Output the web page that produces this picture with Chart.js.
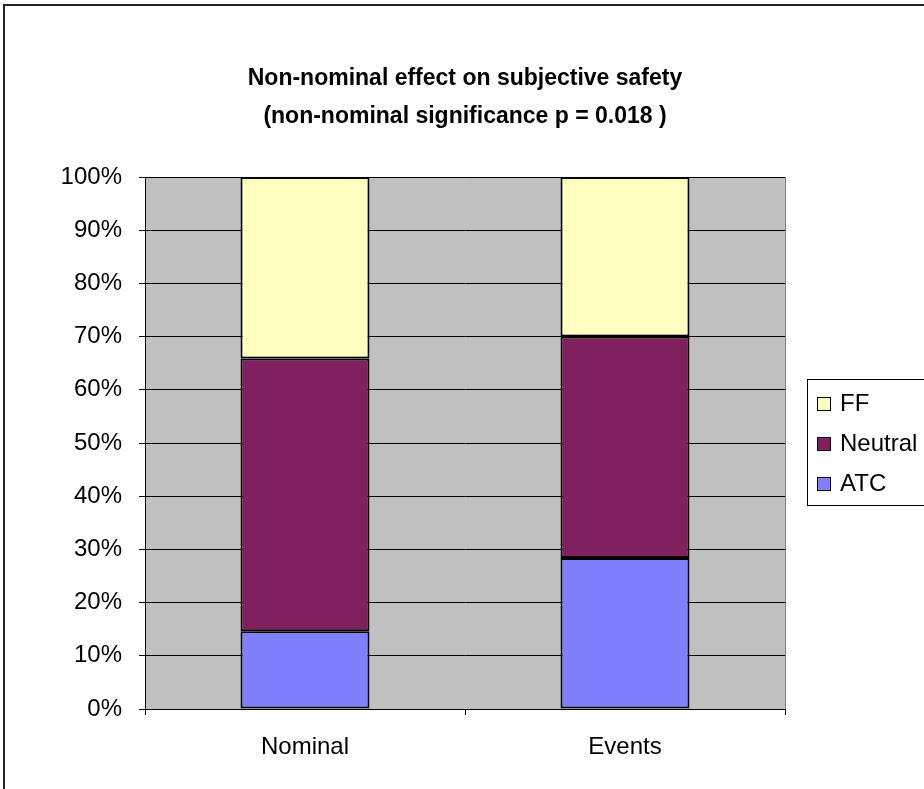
<!DOCTYPE html>
<html>
<head>
<meta charset="utf-8">
<script src="https://cdn.jsdelivr.net/npm/chart.js@4.4.1/dist/chart.umd.min.js"></script>
<style>
  html, body { margin: 0; padding: 0; background: #fff; }
  #wrap { width: 924px; height: 789px; position: relative; }
</style>
</head>
<body>
<div id="wrap"><canvas id="chart" width="924" height="789"></canvas></div>
<script>
// ==== Data ====
const categories = ['Nominal', 'Events'];
const atcValues = [14.6, 28.4];
const neutralValues = [51.3, 41.6];
const ffValues = [34.1, 30.0];
const titleLines = ['Non-nominal effect on subjective safety', '(non-nominal significance p = 0.018 )'];

const FONT = '"Liberation Sans", Arial, sans-serif';

// ==== Plot background, frame, title, legend ====
const framePlugin = {
  id: 'frame',
  beforeDraw(chart) {
    const { ctx, chartArea: a } = chart;
    ctx.save();
    ctx.fillStyle = '#fff';
    ctx.fillRect(0, 0, chart.width, chart.height);
    ctx.strokeStyle = '#222';
    ctx.lineWidth = 2;
    ctx.strokeRect(4, 5, chart.width + 20, chart.height + 20);
    ctx.fillStyle = '#c0c0c0';
    ctx.fillRect(a.left, a.top, a.right - a.left, a.bottom - a.top);
    ctx.strokeStyle = '#808080';
    ctx.lineWidth = 1;
    ctx.strokeRect(a.left + 0.5, a.top + 0.5, a.right - a.left, a.bottom - a.top);
    ctx.restore();
  },
  afterDraw(chart) {
    const { ctx } = chart;
    ctx.save();
    // title
    ctx.fillStyle = '#000';
    ctx.font = 'bold 23px ' + FONT;
    ctx.textAlign = 'center';
    ctx.textBaseline = 'middle';
    ctx.fillText(titleLines[0], 465, 79);
    ctx.fillText(titleLines[1], 465, 117);

    // legend (top item = last dataset)
    ctx.strokeStyle = '#000';
    ctx.lineWidth = 1;
    ctx.strokeRect(807.5, 379.5, 140, 126);
    ctx.font = '24px ' + FONT;
    ctx.textAlign = 'left';
    const ds = chart.data.datasets.slice().reverse();
    ds.forEach((d, i) => {
      const cy = 403 + i * 40;
      ctx.fillStyle = d.backgroundColor;
      ctx.fillRect(817, cy - 6, 13, 13);
      ctx.strokeRect(817.5, cy - 5.5, 13, 13);
      ctx.fillStyle = '#000';
      ctx.fillText(d.label, 840, cy + 1);
    });
    ctx.restore();
  }
};

new Chart(document.getElementById('chart'), {
  type: 'bar',
  data: {
    labels: categories,
    datasets: [
      { label: 'ATC', data: atcValues, backgroundColor: '#8080ff' },
      { label: 'Neutral', data: neutralValues, backgroundColor: '#80205f' },
      { label: 'FF', data: ffValues, backgroundColor: '#ffffc0' }
    ].map(d => Object.assign(d, {
      borderColor: '#000',
      borderWidth: 2,
      borderSkipped: false,
      barPercentage: 1,
      categoryPercentage: 0.403
    }))
  },
  options: {
    responsive: false,
    animation: false,
    layout: { padding: { left: 0, top: 177, right: 139, bottom: 0 } },
    plugins: {
      legend: { display: false },
      title: { display: false },
      tooltip: { enabled: false }
    },
    scales: {
      x: {
        stacked: true,
        afterFit(scale) { scale.height = 80; },
        grid: { drawOnChartArea: false, drawTicks: true, tickLength: 6, color: '#000', offset: true },
        border: { color: '#000', width: 1 },
        ticks: { color: '#000', font: { family: FONT, size: 24 }, padding: 18 }
      },
      y: {
        stacked: true,
        min: 0,
        max: 100,
        afterFit(scale) { scale.width = 145; },
        grid: { color: '#000', lineWidth: 1, drawTicks: true, tickLength: 6, tickColor: '#000' },
        border: { color: '#000', width: 1 },
        ticks: {
          stepSize: 10,
          color: '#000',
          padding: 17,
          font: { family: FONT, size: 24 },
          callback: v => v + '%'
        }
      }
    }
  },
  plugins: [framePlugin]
});
</script>
</body>
</html>
